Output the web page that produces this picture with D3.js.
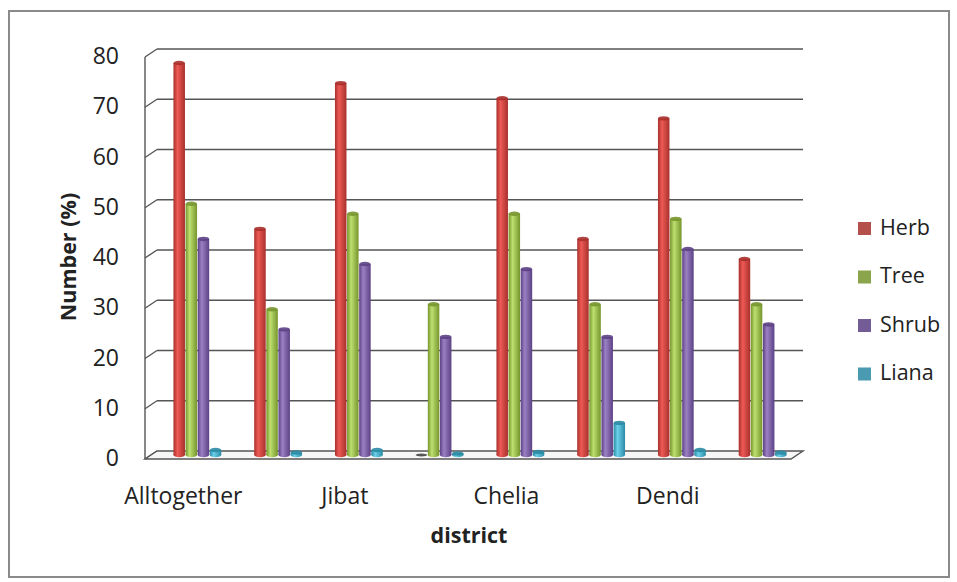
<!DOCTYPE html>
<html>
<head>
<meta charset="utf-8">
<script src="https://cdn.jsdelivr.net/npm/d3@7"></script>
<style>
  body { margin: 0; background: #fff; }
  text { font-family: "Open Sans", Lato, sans-serif; fill: #222; }
</style>
</head>
<body>
<div id="chart"></div>
<script>
const categories = ["Alltogether", "cat2", "Jibat", "cat4", "Chelia", "cat6", "Dendi", "cat8"];
const tickLabels = ["Alltogether", "", "Jibat", "", "Chelia", "", "Dendi", ""];
const series = ["Herb", "Tree", "Shrub", "Liana"];
const herb  = [78, 45, 74, 0, 71, 43, 67, 39];
const tree  = [50, 29, 48, 30, 48, 30, 47, 30];
const shrub = [43, 25, 38, 23.5, 37, 23.5, 41, 26];
const liana = [1, 0.5, 1, 0.3, 0.6, 6.4, 1, 0.5];
const yTicks = [0, 10, 20, 30, 40, 50, 60, 70, 80];
const colors = {Herb: ["#a8302c", "#ee5a55"], Tree: ["#76952c", "#bde070"], Shrub: ["#5c4185", "#9c80c4"], Liana: ["#2a8aa3", "#6cd0ea"]};

const values = {Herb: herb, Tree: tree, Shrub: shrub, Liana: liana};
const W = 957, H = 582;
const dx = 12, dy = 8; // 3d depth offset

const svg = d3.select("#chart").append("svg")
    .attr("width", W).attr("height", H);

// outer frame
svg.append("rect")
    .attr("x", 9).attr("y", 11).attr("width", 940).attr("height", 566)
    .attr("fill", "#fff").attr("stroke", "#8a8a8a").attr("stroke-width", 2);

const x = d3.scaleBand().domain(d3.range(categories.length)).range([157, 803]);
const x1 = d3.scaleBand().domain(series).range([x.bandwidth() * 0.2, x.bandwidth() * 0.8]);
const y = d3.scaleLinear().domain([0, 80]).range([451, 49]);

const defs = svg.append("defs");
series.forEach(s => {
  const g = defs.append("linearGradient").attr("id", "g" + s).attr("x1", 0).attr("x2", 1).attr("y1", 0).attr("y2", 0);
  g.append("stop").attr("offset", "0%").attr("stop-color", colors[s][0]);
  g.append("stop").attr("offset", "35%").attr("stop-color", colors[s][1]);
  g.append("stop").attr("offset", "100%").attr("stop-color", colors[s][0]);
});

// gridlines on back wall + left wall diagonals
const grid = svg.append("g");
yTicks.forEach(t => {
  if (t > 0) {
    grid.append("line").attr("x1", x.range()[0]).attr("x2", x.range()[1])
      .attr("y1", y(t)).attr("y2", y(t)).attr("stroke", "#555").attr("stroke-width", 1.4);
  }
  grid.append("line").attr("x1", x.range()[0] - dx).attr("y1", y(t) + dy)
    .attr("x2", x.range()[0]).attr("y2", y(t)).attr("stroke", "#555").attr("stroke-width", 1.4);
});
// left wall edge
grid.append("line").attr("x1", x.range()[0] - dx).attr("x2", x.range()[0] - dx)
  .attr("y1", y(80) + dy).attr("y2", y(0) + dy).attr("stroke", "#555").attr("stroke-width", 1.4);
// floor
grid.append("path")
  .attr("d", `M${x.range()[0] - dx},${y(0) + dy} L${x.range()[1] - dx},${y(0) + dy} L${x.range()[1]},${y(0)} L${x.range()[0]},${y(0)} Z`)
  .attr("fill", "#f6f6f6").attr("stroke", "#555").attr("stroke-width", 1.4);

// y tick labels
svg.append("g").selectAll("text").data(yTicks).join("text")
  .attr("x", 119).attr("y", d => y(d) + dy + 1)
  .attr("text-anchor", "end").attr("dominant-baseline", "middle")
  .style("font-size", "23px").text(d => d);

// bars (cylinders)
const yb = v => y(v) + 4;
const bw = x1.bandwidth() * 0.95;
const groups = svg.append("g").selectAll("g").data(categories).join("g")
  .attr("transform", (d, i) => `translate(${x(i)},0)`);
series.forEach(s => {
  groups.each(function(d, i) {
    const v = values[s][i];
    const cx = x1(s) + x1.bandwidth() / 2;
    const g = d3.select(this);
    if (v === 0) {
      g.append("ellipse").attr("cx", cx).attr("cy", yb(0)).attr("rx", bw / 2).attr("ry", 1.5)
        .attr("fill", "#555");
      return;
    }
    g.append("rect").attr("x", cx - bw / 2).attr("y", yb(v)).attr("width", bw)
      .attr("height", yb(0) - yb(v)).attr("fill", `url(#g${s})`);
    g.append("ellipse").attr("cx", cx).attr("cy", yb(0)).attr("rx", bw / 2).attr("ry", 2.2)
      .attr("fill", `url(#g${s})`);
    g.append("ellipse").attr("cx", cx).attr("cy", yb(v)).attr("rx", bw / 2).attr("ry", 2.2)
      .attr("fill", colors[s][0]).attr("opacity", 0.9);
  });
});

// x tick labels
svg.append("g").selectAll("text").data(tickLabels).join("text")
  .attr("x", (d, i) => x(i) + x.bandwidth() / 2 - 14)
  .attr("y", 504).attr("text-anchor", "middle")
  .style("font-size", "23px").text(d => d);

// axis titles
svg.append("text").attr("transform", "translate(76,257) rotate(-90)")
  .attr("text-anchor", "middle").style("font-size", "21.5px").style("font-weight", "bold")
  .text("Number (%)");
svg.append("text").attr("x", 469).attr("y", 543)
  .attr("text-anchor", "middle").style("font-size", "21.5px").style("font-weight", "bold")
  .text("district");

// legend
const legend = svg.append("g").selectAll("g").data(series).join("g")
  .attr("transform", (d, i) => `translate(858,${228 + i * 48.5})`);
legend.append("rect").attr("x", 0).attr("y", -6).attr("width", 13).attr("height", 13)
  .attr("fill", d => colors[d][0]).attr("opacity", 0.85);
legend.append("text").attr("x", 22).attr("y", 1).attr("dominant-baseline", "middle")
  .style("font-size", "21.5px").text(d => d);
</script>
</body>
</html>
